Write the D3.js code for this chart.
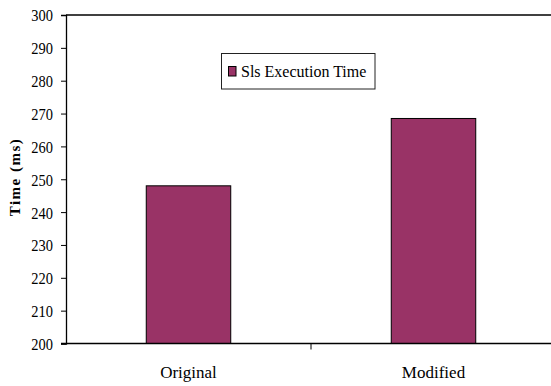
<!DOCTYPE html>
<html>
<head>
<meta charset="utf-8">
<script src="https://cdn.jsdelivr.net/npm/d3@7"></script>
<style>
  html, body { margin: 0; padding: 0; background: #fff; }
  svg { display: block; }
</style>
</head>
<body>
<svg id="chart" width="551" height="386"></svg>
<script>
const categories = ["Original", "Modified"];
const seriesName = "Sls Execution Time";
const seriesValues = [248, 268.5];
const yTicks = [200, 210, 220, 230, 240, 250, 260, 270, 280, 290, 300];
const yLabel = "Time (ms)";

const FONT = "Liberation Serif";
const W = 551, H = 386;
const margin = { left: 66, top: 15, right: -5, bottom: 42.5 };
const svg = d3.select("#chart");

const x = d3.scaleBand().domain(categories).range([margin.left, W - margin.right]).padding(0);
const y = d3.scaleLinear().domain([200, 300]).range([H - margin.bottom, margin.top]);
const barW = x.bandwidth() / 2.9;

svg.append("line")
  .attr("x1", margin.left).attr("x2", W).attr("y1", y(300)).attr("y2", y(300))
  .attr("stroke", "#000").attr("stroke-width", 1.3);

svg.selectAll("rect.bar").data(categories).enter().append("rect")
  .attr("class", "bar")
  .attr("x", d => x(d) + x.bandwidth() / 2 - barW / 2)
  .attr("y", (d, i) => y(seriesValues[i]))
  .attr("width", barW)
  .attr("height", (d, i) => y(200) - y(seriesValues[i]))
  .attr("fill", "#993366")
  .attr("stroke", "#000").attr("stroke-width", 1);

const yAxis = d3.axisLeft(y).tickValues(yTicks).tickSize(5).tickPadding(8).tickFormat(d3.format("d"));
const gy = svg.append("g").attr("transform", `translate(${margin.left},0)`).call(yAxis);
gy.attr("font-family", FONT).attr("font-size", 17);
gy.select(".domain").attr("stroke", "#000").attr("stroke-width", 1.3);
gy.selectAll(".tick line").attr("stroke", "#000");
gy.selectAll(".tick text")
  .attr("font-family", FONT)
  .attr("font-size", 17)
  .attr("fill", "#000")
  .attr("dy", "0.35em")
  .each(function() {
    const t = d3.select(this);
    const xx = +t.attr("x");
    t.attr("x", xx / 0.85).attr("transform", "scale(0.85,1)");
  });

const gx = svg.append("g").attr("transform", `translate(0,${y(200)})`);
gx.append("line").attr("x1", margin.left - 5).attr("x2", W).attr("y1", 0).attr("y2", 0)
  .attr("stroke", "#000").attr("stroke-width", 1.3);
const boundaries = categories.slice(1).map(c => x(c));
gx.selectAll("line.ctick").data(boundaries).enter().append("line")
  .attr("class", "ctick")
  .attr("x1", d => d).attr("x2", d => d).attr("y1", 0).attr("y2", 6)
  .attr("stroke", "#000");
gx.selectAll("text.clabel").data(categories).enter().append("text")
  .attr("class", "clabel")
  .attr("x", d => x(d) + x.bandwidth() / 2)
  .attr("y", 34.5)
  .attr("text-anchor", "middle")
  .attr("font-family", FONT)
  .attr("font-size", 17)
  .text(d => d);

svg.append("text")
  .attr("transform", `translate(20,177) rotate(-90)`)
  .attr("text-anchor", "middle")
  .attr("font-family", FONT)
  .attr("font-size", 15)
  .attr("font-weight", "bold")
  .style("letter-spacing", "1.5px")
  .text(yLabel);

const lg = svg.append("g");
lg.append("rect").attr("x", 221.5).attr("y", 53.5).attr("width", 153.5).attr("height", 35.5)
  .attr("fill", "#fff").attr("stroke", "#222").attr("stroke-width", 1);
lg.append("rect").attr("x", 228.5).attr("y", 66.5).attr("width", 7.5).attr("height", 9.5)
  .attr("fill", "#993366").attr("stroke", "#000").attr("stroke-width", 1);
lg.append("text").attr("x", 241).attr("y", 77)
  .attr("font-family", FONT).attr("font-size", 16).text(seriesName);
</script>
</body>
</html>
